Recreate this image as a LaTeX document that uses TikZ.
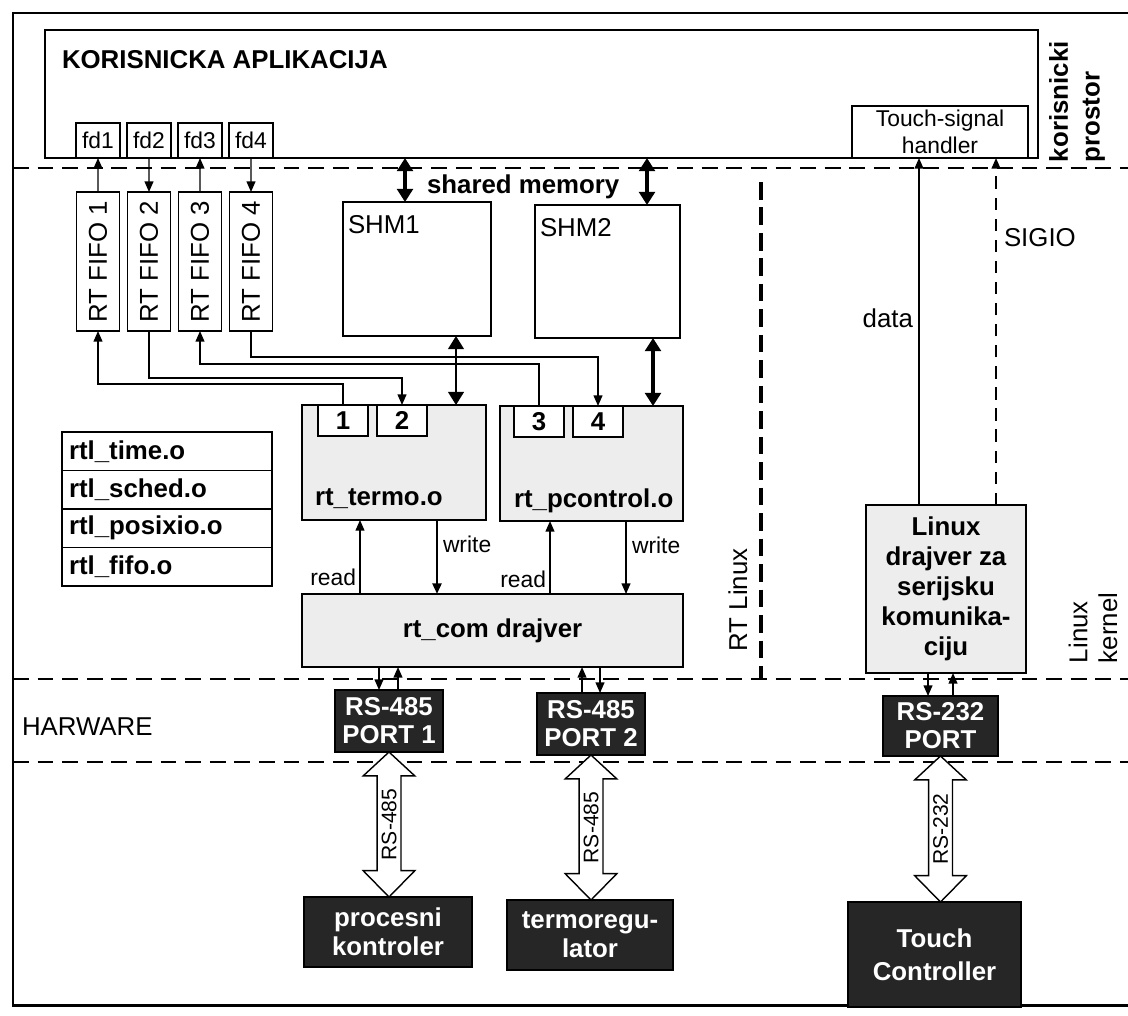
\documentclass[tikz,border=0pt]{standalone}
\usepackage{fontspec}
\setmainfont{Liberation Sans}
\usepackage{graphicx}
\usetikzlibrary{arrows.meta,calc}

% one unit of the drawing grid
\newlength{\pxu}
\setlength{\pxu}{0.02cm}

\newcommand{\fnreg}{\fontsize{14.7}{17}\selectfont}
\newcommand{\fnbold}{\fontsize{14.7}{17}\selectfont\bfseries}
\newcommand{\fnsmall}{\fontsize{13}{15}\selectfont}
\newcommand{\fnbus}{\fontsize{12}{13}\selectfont}

\tikzset{
  every node/.style={inner sep=0pt, outer sep=0pt},
  box/.style 2 args={draw, line width=1pt, anchor=north west,
    minimum width={#1*\pxu}, minimum height={#2*\pxu}},
  graybox/.style={fill=black!7, line width=1.3pt},
  darkbox/.style={fill=black!85, draw=black, text=white, align=center,
    font=\fontsize{14.7}{16.5}\selectfont\bfseries},
  arr/.style={line width=0.8pt, -{Triangle[length=6pt,width=5pt]}},
  memarr/.style={line width=1.8pt,
    {Triangle[length=7.5pt,width=9pt]}-{Triangle[length=7.5pt,width=9pt]}},
  shmarr/.style={line width=1.1pt,
    {Triangle[length=7.5pt,width=9pt]}-{Triangle[length=7.5pt,width=9pt]}},
  layer/.style={line width=0.8pt, dash pattern=on 9pt off 5pt},
  rtline/.style={line width=1.8pt, dash pattern=on 10pt off 4.5pt},
  sigline/.style={dash pattern=on 7pt off 5pt},
  bus/.style={line width=0.8pt, fill=white},
}

\begin{document}
\begin{tikzpicture}[x=0.02cm, y=-0.02cm]
\useasboundingbox (0,0) rectangle (1128,1015);
\clip (0,0) rectangle (1128,1015);

% outer frame, open on the right
\draw[line width=1.7pt] (1140,13) -- (13,13) -- (13,1005) -- (1140,1005);

% layer borders
\draw[layer] (13,168) -- (1128,168);
\draw[layer] (13,679) -- (1128,679);
\draw[layer] (13,762) -- (1128,762);
\draw[rtline] (761,182) -- (761,679);

% user space
\node[box={993}{128}] (app) at (45,30) {};
\node[font=\fnbold, anchor=base west] (apptitle) at (62,68) {KORISNICKA APLIKACIJA};
\node[box={176}{52}, align=center, font=\fnsmall] (handler) at (852,106) {Touch-signal\\handler};
\node[rotate=90, anchor=west, align=left, font=\fontsize{14.7}{18}\selectfont\bfseries]
  (userlbl) at (1077,162) {korisnicki\\prostor};

% fifos and their descriptors
\foreach \i in {1,...,4} {
  \node[box={44}{35}, font=\fnsmall] (fd\i) at ({25+51*\i},123) {fd\i};
  \node[box={43}{139}, font=\fnreg] (fifo\i) at ({25.5+51*\i},192) {\rotatebox{90}{RT FIFO \i}};
}
\draw[arr] (fifo1.north) -- (fd1.south);
\draw[arr] (fd2.south) -- (fifo2.north);
\draw[arr] (fifo3.north) -- (fd3.south);
\draw[arr] (fd4.south) -- (fifo4.north);

% shared memory
\node[box={148}{134}] (shm1) at (343,202) {};
\node[box={145}{133}] (shm2) at (535,205) {};
\node[font=\fnreg, anchor=base west] (shm1lbl) at ([shift={(5,31)}]shm1.north west) {SHM1};
\node[font=\fnreg, anchor=base west] (shm2lbl) at ([shift={(5,31)}]shm2.north west) {SHM2};
\node[font=\fnbold, anchor=base west] (shmlbl) at (427,193) {shared memory};
\draw[memarr] (405,0 |- app.south) -- (405,0 |- shm1.north);
\draw[memarr] (647,0 |- app.south) -- (647,0 |- shm2.north);

% rt modules
\node[box={184}{115}, graybox] (termo) at (302,405) {};
\node[box={183}{115}, graybox] (pctl) at (500,406) {};
\node[box={50}{31}, fill=white, font=\fnbold] (ch1) at ([shift={(16,0)}]termo.north west) {1};
\node[box={50}{31}, fill=white, font=\fnbold] (ch2) at ([shift={(75,0)}]termo.north west) {2};
\node[box={50}{31}, fill=white, font=\fnbold] (ch3) at ([shift={(14,0)}]pctl.north west) {3};
\node[box={50}{31}, fill=white, font=\fnbold] (ch4) at ([shift={(73,0)}]pctl.north west) {4};
\node[font=\fnbold, anchor=base west] (termolbl) at ([shift={(13,100)}]termo.north west) {rt\_termo.o};
\node[font=\fnbold, anchor=base west] (pctllbl) at ([shift={(14,101)}]pctl.north west) {rt\_pcontrol.o};

\draw[arr] (ch1.north) -- ++(0,-21) -| (fifo1.south);
\draw[arr] (fifo2.south) -- ++(0,47) -| (ch2.north);
\draw[arr] (ch3.north) -- ++(0,-42) -| (fifo3.south);
\draw[arr] (fifo4.south) -- ++(0,26) -| (ch4.north);

\draw[shmarr] (456,0 |- shm1.south) -- (456,0 |- termo.north);
\draw[memarr] (653,0 |- shm2.south) -- (653,0 |- pctl.north);

% rtl modules
\foreach \f [count=\i] in {time,sched,posixio,fifo}
  \node[box={210}{38.5}, font=\fnbold, text width=3.92cm, inner xsep=0.14cm, align=left]
    (rtl\i) at (62,{432+38.5*(\i-1)}) {rtl\_\f.o};

% serial driver
\node[box={381}{73}, graybox, font=\fnbold] (com) at (302,594) {rt\_com drajver};
\draw[arr] (360,0 |- com.north) -- (360,0 |- termo.south);
\draw[arr, line width=1.6pt] (437,0 |- termo.south) -- (437,0 |- com.north);
\draw[arr] (550,0 |- com.north) -- (550,0 |- pctl.south);
\draw[arr] (626,0 |- pctl.south) -- (626,0 |- com.north);
\node[font=\fnsmall, anchor=base east] (rd1) at (356,585) {read};
\node[font=\fnsmall, anchor=base west] (wr1) at (443,552) {write};
\node[font=\fnsmall, anchor=base east] (rd2) at (546,587) {read};
\node[font=\fnsmall, anchor=base west] (wr2) at (632,553) {write};

% linux side
\node[box={160}{168}, graybox, align=center, font=\fnbold] (linux) at (866,505)
  {Linux\\drajver za\\serijsku\\komunika-\\ciju};
\draw[arr] (919,0 |- linux.north) -- (919,0 |- handler.south);
\draw[arr, sigline] (996,0 |- linux.north) -- (996,0 |- handler.south);
\node[font=\fnreg, anchor=base east] (datalbl) at (913,327) {data};
\node[font=\fnreg, anchor=base west] (siglbl) at (1004,246) {SIGIO};

% side labels
\node[font=\fnreg, anchor=base west] (hwlbl) at (22,735) {HARWARE};
\node[rotate=90, font=\fnreg] (rtlbl) at (738,600) {RT Linux};
\node[rotate=90, anchor=west, align=left, font=\fnreg] (kernlbl) at (1093,663) {Linux\\kernel};

% ports
\node[box={108}{62}, darkbox, font=\fontsize{14.7}{16}\selectfont\bfseries] (p1) at (335,690) {RS-485\\PORT 1};
\node[box={108}{62}, darkbox, font=\fontsize{14.7}{16}\selectfont\bfseries] (p2) at (537,693) {RS-485\\PORT 2};
\node[box={115}{60}, darkbox, font=\fontsize{14.7}{16}\selectfont\bfseries] (p3) at (883,696) {RS-232\\PORT};
\draw[arr] (379,0 |- com.south) -- (379,0 |- p1.north);
\draw[arr] (398,0 |- p1.north) -- (398,0 |- com.south);
\draw[arr] (582,0 |- p2.north) -- (582,0 |- com.south);
\draw[arr] (600,0 |- com.south) -- (600,0 |- p2.north);
\draw[arr] (928,0 |- linux.south) -- (928,0 |- p3.north);
\draw[arr] (953,0 |- p3.north) -- (953,0 |- linux.south);

% devices
\node[box={168}{70}, darkbox] (pk) at (304,897) {procesni\\kontroler};
\node[box={166}{70}, darkbox] (tr) at (507,900) {termoregu-\\lator};
\node[box={173}{105}, darkbox, font=\fontsize{14.7}{19}\selectfont\bfseries] (tc) at (848,902) {Touch\\Controller};

% serial lines
\foreach \src/\dst/\lbl in {p1/pk/RS-485, p2/tr/RS-485, p3/tc/RS-232}
  \draw[bus] let \p1=(\src.south), \p2=(\dst.north) in
    (\p1) -- (\x1-14.7pt,\y1-13.6pt) -- (\x1-6.8pt,\y1-13.6pt)
    -- (\x1-6.8pt,\y2+15pt) -- (\x1-14.7pt,\y2+15pt) -- (\x1,\y2)
    -- (\x1+14.7pt,\y2+15pt) -- (\x1+6.8pt,\y2+15pt)
    -- (\x1+6.8pt,\y1-13.6pt) -- (\x1+14.7pt,\y1-13.6pt) -- cycle
    (\x1,{(\y1+\y2)/2}) node[rotate=90, font=\fnbus] {\lbl};
\end{tikzpicture}
\end{document}
